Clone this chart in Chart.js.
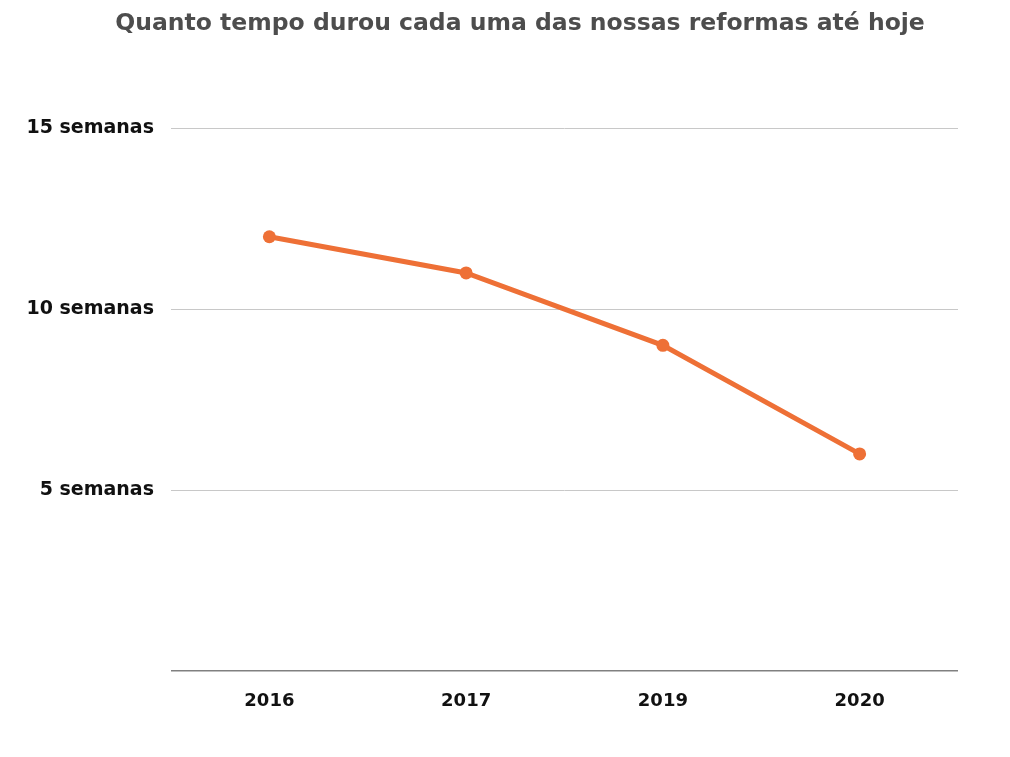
<!DOCTYPE html>
<html>
<head>
<meta charset="utf-8">
<script src="https://cdn.jsdelivr.net/npm/chart.js@4"></script>
<style>
  html, body { margin: 0; padding: 0; background: #fff; }
  #wrap { width: 1010px; height: 757px; }
</style>
</head>
<body>
<div id="wrap"><canvas id="chart"></canvas></div>
<script>
const years = ["2016", "2017", "2019", "2020"];
const weeks = [12, 11, 9, 6];
const tickSuffix = " semanas";
const titleText = "Quanto tempo durou cada uma das nossas reformas até hoje";

const FONT = "'DejaVu Sans', sans-serif";

// title sits a bit right of the plot centre in the original
const nudgeTitle = {
  id: "nudgeTitle",
  afterLayout(chart) {
    const t = chart.titleBlock;
    if (t) {
      t.left += 36;
      t.right += 36;
    }
  },
};

new Chart(document.getElementById("chart"), {
  type: "line",
  data: {
    labels: years,
    datasets: [{
      data: weeks,
      borderColor: "#ee7036",
      backgroundColor: "#ee7036",
      borderWidth: 5,
      pointRadius: 6.5,
      pointBackgroundColor: "#ee7036",
      pointBorderWidth: 0,
      tension: 0,
    }],
  },
  options: {
    responsive: true,
    maintainAspectRatio: false,
    animation: false,
    layout: { padding: { top: 0, left: 10, right: 52, bottom: 40 } },
    plugins: {
      legend: { display: false },
      tooltip: { enabled: false },
      title: {
        display: true,
        text: titleText,
        color: "#4d4d4d",
        font: { family: FONT, size: 23.5, weight: "bold" },
        padding: { top: 10, bottom: 90 },
      },
    },
    scales: {
      x: {
        offset: true,
        grid: { display: false },
        border: { display: false },
        afterFit(scale) { scale.height = 46; },
        ticks: {
          color: "#111",
          padding: 12,
          font: { family: FONT, size: 18, weight: "bold" },
        },
      },
      y: {
        min: 0,
        max: 15,
        afterFit(scale) { scale.width = 161; },
        border: { display: false },
        grid: {
          drawTicks: false,
          color: (ctx) => (ctx.tick && ctx.tick.value === 0 ? "#808080" : "#c8c8c8"),
          lineWidth: (ctx) => (ctx.tick && ctx.tick.value === 0 ? 1.5 : 1),
        },
        ticks: {
          stepSize: 5,
          padding: 17,
          color: "#111",
          font: { family: FONT, size: 19, weight: "bold" },
          callback: (v) => (v === 0 ? "" : v + tickSuffix),
        },
      },
    },
  },
  plugins: [nudgeTitle],
});
</script>
</body>
</html>
